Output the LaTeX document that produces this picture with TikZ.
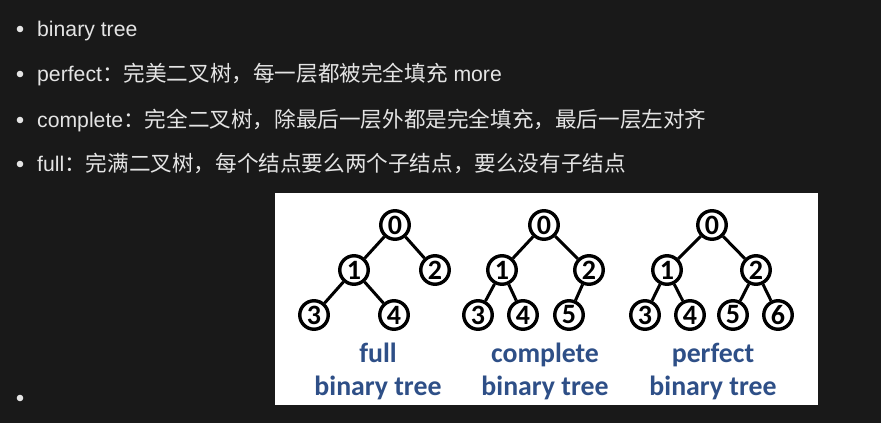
\documentclass[tikz,border=0pt]{standalone}
\usepackage{fontspec}
\setmainfont{Liberation Sans}
\newfontfamily\cjkfont{Noto Sans CJK SC}
\newfontfamily\calfont{Carlito}
\newcommand{\zh}[1]{{\cjkfont\fontsize{21.6}{26}\selectfont #1}}
\definecolor{bgdark}{HTML}{191919}
\definecolor{txtlight}{HTML}{E4E4E4}
\definecolor{lblblue}{RGB}{46,79,135}
\begin{document}
\begin{tikzpicture}[x=1pt,y=-1pt,
  line/.style={anchor=base west,text=txtlight,inner sep=0pt,font=\fontsize{21.2}{26}\selectfont},
  bul/.style={circle,fill=txtlight,inner sep=0pt,minimum size=6.6pt},
  tn/.style={circle,draw=black,line width=3.4pt,fill=white,minimum size=28.5pt,inner sep=0pt,font=\calfont\bfseries\fontsize{28}{28}\selectfont},
  ed/.style={draw=black,line width=3pt},
  lbl/.style={anchor=base,text=lblblue,inner sep=0pt,font=\calfont\bfseries\fontsize{27.8}{30}\selectfont}]
\fill[bgdark] (0,0) rectangle (881,423);
\useasboundingbox (0,0) rectangle (881,423);
% bullets and text
\node[bul] (b1) at (20,29) {};
\node[bul] (b2) at (20,74) {};
\node[bul] (b3) at (20,120) {};
\node[bul] (b4) at (20,164) {};
\node[bul] (b5) at (20,398) {};
\node[line] (t1) at (37,36) {binary tree};
\node[line] (t2) at (37,81) {perfect\zh{：完美二叉树，每一层都被完全填充} more};
\node[line] (t3) at (37,127) {complete\zh{：完全二叉树，除最后一层外都是完全填充，最后一层左对齐}};
\node[line] (t4) at (37,171) {full\zh{：完满二叉树，每个结点要么两个子结点，要么没有子结点}};
% white panel
\fill[white] (275,193) rectangle (818,405);
% full tree
\node[tn] (f0) at (395,225) {0};
\node[tn] (f1) at (354,270) {1};
\node[tn] (f2) at (435,270) {2};
\node[tn] (f3) at (314,315) {3};
\node[tn] (f4) at (394,315) {4};
\draw[ed] (f0) -- (f1);
\draw[ed] (f0) -- (f2);
\draw[ed] (f1) -- (f3);
\draw[ed] (f1) -- (f4);
% complete tree
\node[tn] (c0) at (544,225) {0};
\node[tn] (c1) at (502,270) {1};
\node[tn] (c2) at (589,270) {2};
\node[tn] (c3) at (478,315) {3};
\node[tn] (c4) at (523,315) {4};
\node[tn] (c5) at (569,315) {5};
\draw[ed] (c0) -- (c1);
\draw[ed] (c0) -- (c2);
\draw[ed] (c1) -- (c3);
\draw[ed] (c1) -- (c4);
\draw[ed] (c2) -- (c5);
% perfect tree
\node[tn] (p0) at (712,225) {0};
\node[tn] (p1) at (667,270) {1};
\node[tn] (p2) at (756,270) {2};
\node[tn] (p3) at (645,315) {3};
\node[tn] (p4) at (690,315) {4};
\node[tn] (p5) at (733,315) {5};
\node[tn] (p6) at (778,315) {6};
\draw[ed] (p0) -- (p1);
\draw[ed] (p0) -- (p2);
\draw[ed] (p1) -- (p3);
\draw[ed] (p1) -- (p4);
\draw[ed] (p2) -- (p5);
\draw[ed] (p2) -- (p6);
% labels
\node[lbl] (lf1) at (378,362) {full};
\node[lbl] (lf2) at (378,395) {binary tree};
\node[lbl] (lc1) at (545,362) {complete};
\node[lbl] (lc2) at (545,395) {binary tree};
\node[lbl] (lp1) at (713,362) {perfect};
\node[lbl] (lp2) at (713,395) {binary tree};
\end{tikzpicture}
\end{document}
